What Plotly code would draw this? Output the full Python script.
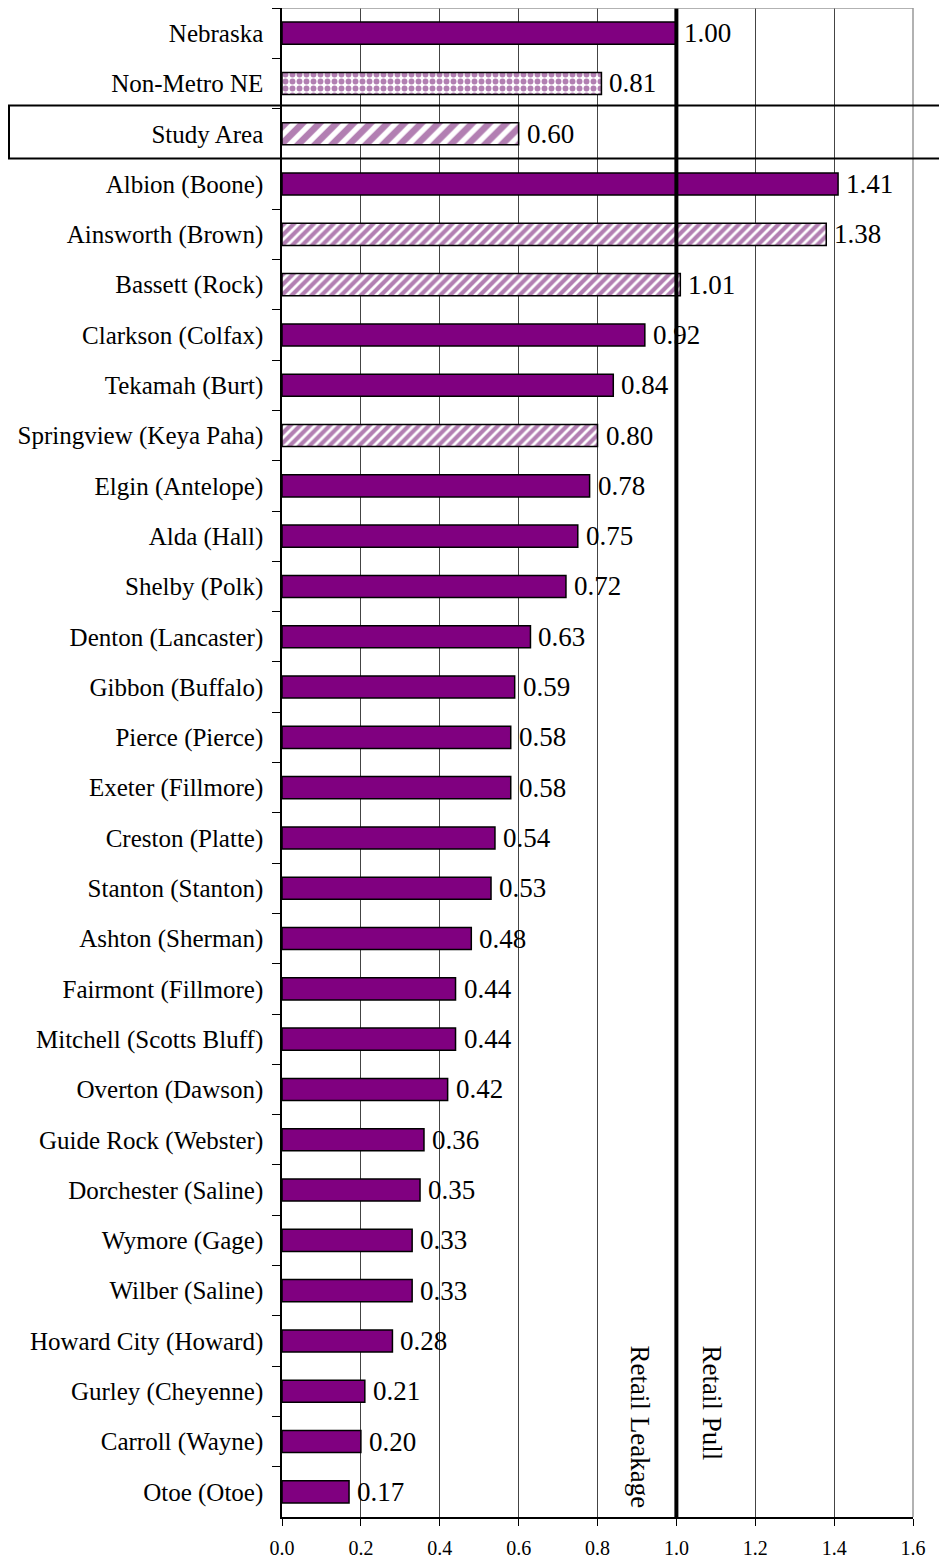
import plotly.graph_objects as go

categories = [
    "Nebraska", "Non-Metro NE", "Study Area", "Albion (Boone)", "Ainsworth (Brown)",
    "Bassett (Rock)", "Clarkson (Colfax)", "Tekamah (Burt)", "Springview (Keya Paha)",
    "Elgin (Antelope)", "Alda (Hall)", "Shelby (Polk)", "Denton (Lancaster)",
    "Gibbon (Buffalo)", "Pierce (Pierce)", "Exeter (Fillmore)", "Creston (Platte)",
    "Stanton (Stanton)", "Ashton (Sherman)", "Fairmont (Fillmore)",
    "Mitchell (Scotts Bluff)", "Overton (Dawson)", "Guide Rock (Webster)",
    "Dorchester (Saline)", "Wymore (Gage)", "Wilber (Saline)", "Howard City (Howard)",
    "Gurley (Cheyenne)", "Carroll (Wayne)", "Otoe (Otoe)",
]
values = [1.00, 0.81, 0.60, 1.41, 1.38, 1.01, 0.92, 0.84, 0.80, 0.78, 0.75, 0.72,
          0.63, 0.59, 0.58, 0.58, 0.54, 0.53, 0.48, 0.44, 0.44, 0.42, 0.36, 0.35,
          0.33, 0.33, 0.28, 0.21, 0.20, 0.17]
# bar fill style: solid, dots, wide hatch, fine hatch
styles = ["solid", "dots", "wide", "solid", "fine", "fine", "solid", "solid", "fine"] + ["solid"] * 21
x_ticks = [0.0, 0.2, 0.4, 0.6, 0.8, 1.0, 1.2, 1.4, 1.6]

PURPLE = "#800080"
DARK_PURPLE = "#660066"
FONT = "Liberation Serif"

pattern_defs = {
    "solid": dict(shape=""),
    "dots": dict(shape=".", fgcolor=DARK_PURPLE, bgcolor="white", size=7, solidity=0.55, fillmode="overlay"),
    "wide": dict(shape="/", fgcolor=DARK_PURPLE, bgcolor="white", size=12, solidity=0.55, fillmode="overlay"),
    "fine": dict(shape="/", fgcolor=DARK_PURPLE, bgcolor="white", size=7, solidity=0.6, fillmode="overlay"),
}

# page geometry (figure is offset 8px by the page body margin)
FIG_W, FIG_H = 939, 1555
PL, PT, PW, PH = 282, 8, 631, 1509  # plot area in page pixels


def py(p):
    return (PT + PH - p) / PH


def px(p):
    return (p - PL) / PW


fig = go.Figure()
for st in ["solid", "dots", "wide", "fine"]:
    xs = [v if s == st else None for v, s in zip(values, styles)]
    fig.add_trace(go.Bar(
        x=xs, y=categories, orientation="h",
        marker=dict(color=PURPLE if st == "solid" else "white",
                    line=dict(color="black", width=1.5),
                    pattern=pattern_defs[st]),
        width=0.44, showlegend=False, hoverinfo="skip",
    ))

for c, v in zip(categories, values):
    fig.add_annotation(x=v, y=c, text=f"{v:.2f}", showarrow=False,
                       xanchor="left", yanchor="middle", xshift=6,
                       font=dict(family=FONT, size=27, color="black"))

# reference line at 1.0
fig.add_shape(type="line", xref="x", yref="paper", x0=1.0, x1=1.0, y0=0, y1=1.002,
              line=dict(color="black", width=4), layer="above")
# grey top/right border
fig.add_shape(type="line", xref="paper", yref="paper", x0=0, x1=1, y0=1, y1=1,
              line=dict(color="#999999", width=1.5))
fig.add_shape(type="line", xref="paper", yref="paper", x0=1, x1=1, y0=0, y1=1,
              line=dict(color="#999999", width=1.5))
# box around Study Area
fig.add_shape(type="rect", xref="paper", yref="paper",
              x0=px(9), x1=px(946), y0=py(158.5), y1=py(105.5),
              line=dict(color="black", width=2), fillcolor="rgba(0,0,0,0)")

fig.add_annotation(x=px(640), xref="paper", y=py(1343), yref="paper",
                   text="Retail Leakage", textangle=90, showarrow=False,
                   xanchor="center", yanchor="top",
                   font=dict(family=FONT, size=27, color="black"))
fig.add_annotation(x=px(712), xref="paper", y=py(1343), yref="paper",
                   text="Retail Pull", textangle=90, showarrow=False,
                   xanchor="center", yanchor="top",
                   font=dict(family=FONT, size=27, color="black"))

fig.update_layout(
    width=FIG_W, height=FIG_H,
    margin=dict(l=PL - 8, r=FIG_W - (PL - 8) - PW, t=0, b=FIG_H - PH),
    paper_bgcolor="white", plot_bgcolor="white",
    barmode="overlay",
    font=dict(family=FONT, color="black"),
    xaxis=dict(range=[0, 1.6], tickvals=x_ticks, ticktext=[f"{t:.1f}" for t in x_ticks],
               showgrid=True, gridcolor="#444444", gridwidth=1,
               showline=True, linecolor="black", linewidth=1.5,
               ticks="outside", ticklen=7, tickcolor="black",
               ticklabelstandoff=5,
               tickfont=dict(family=FONT, size=20), zeroline=False,
               automargin=False),
    yaxis=dict(type="category", categoryorder="array", categoryarray=categories,
               autorange="reversed", tickson="boundaries",
               showline=True, linecolor="black", linewidth=1.5,
               ticks="outside", ticklen=8, tickcolor="black",
               ticklabelstandoff=12,
               tickfont=dict(family=FONT, size=25), showgrid=False,
               automargin=False),
)

fig.write_html("out.html")
